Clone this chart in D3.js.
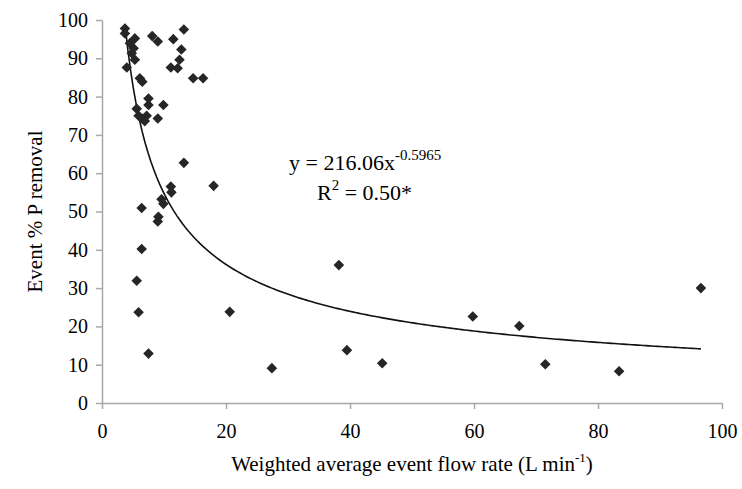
<!DOCTYPE html>
<html>
<head>
<meta charset="utf-8">
<script src="https://cdn.jsdelivr.net/npm/d3@7"></script>
<style>
  body { margin: 0; background: #fff; }
  .tick text { font-family: "Liberation Serif", "Times New Roman", serif; font-size: 20px; fill: #000; }
  .axis path, .axis line { stroke: #a8a8a8; stroke-width: 1.5; }
  .title { font-family: "Liberation Serif", "Times New Roman", serif; font-size: 21px; fill: #000; }
</style>
</head>
<body>
<div id="chart"></div>
<script>
// event data
var flowRate = [3.7, 3.7, 5.3, 4.5, 5.1, 4.8, 5.3, 4.0, 8.1, 9.0,
                 6.1, 6.5, 7.5, 7.5, 9.9, 5.6, 5.9, 6.5, 6.9, 7.2,
                 9.0, 13.2, 11.5, 12.8, 12.5, 11.1, 12.2, 14.7, 16.3, 13.2,
                 18.0, 11.1, 11.2, 9.6, 9.9, 6.4, 9.1, 9.0, 6.4, 5.6,
                 5.9, 7.5, 20.6, 27.4, 38.2, 39.5, 45.2, 59.8, 67.3, 71.5,
                 83.4, 96.6];
var removal = [97.8, 96.5, 95.2, 93.9, 92.6, 91.3, 89.6, 87.6, 95.8, 94.4,
               84.8, 83.9, 79.5, 77.8, 77.8, 76.8, 75.0, 74.2, 73.6, 75.0,
               74.3, 97.5, 95.0, 92.3, 89.6, 87.6, 87.4, 84.8, 84.8, 62.7,
               56.7, 56.5, 55.0, 53.2, 52.0, 50.9, 48.6, 47.4, 40.2, 31.9,
               23.7, 12.9, 23.8, 9.1, 36.0, 13.8, 10.4, 22.6, 20.1, 10.1,
               8.3, 30.0];

// power trendline shown on the chart
var coefA = 216.06;
var coefB = -0.5965;

var xTicks = [0, 20, 40, 60, 80, 100];
var yTicks = [0, 10, 20, 30, 40, 50, 60, 70, 80, 90, 100];

var margin = {top: 20, right: 20, bottom: 86, left: 102};
var width = 742 - margin.left - margin.right;
var height = 489 - margin.top - margin.bottom;

var svg = d3.select("#chart").append("svg")
    .attr("width", 742)
    .attr("height", 489)
  .append("g")
    .attr("transform", "translate(" + margin.left + "," + margin.top + ")");

var x = d3.scaleLinear().domain([0, 100]).range([0, width]);
var y = d3.scaleLinear().domain([0, 100]).range([height, 0]);

// axes
svg.append("g")
    .attr("class", "axis")
    .attr("transform", "translate(0," + height + ")")
    .call(d3.axisBottom(x).tickValues(xTicks).tickSize(6).tickSizeOuter(0).tickPadding(15));

svg.append("g")
    .attr("class", "axis")
    .call(d3.axisLeft(y).tickValues(yTicks).tickSize(6).tickSizeOuter(0).tickPadding(8));

// trendline
var points = d3.zip(flowRate, removal);
var xr = d3.extent(flowRate);
var curve = d3.range(0, 201).map(function(i) {
  var xv = xr[0] + (xr[1] - xr[0]) * i / 200;
  return [xv, coefA * Math.pow(xv, coefB)];
});

svg.append("path")
    .datum(curve)
    .attr("fill", "none")
    .attr("stroke", "#111")
    .attr("stroke-width", 1.6)
    .attr("d", d3.line()
        .x(function(d) { return x(d[0]); })
        .y(function(d) { return y(d[1]); }));

// markers
var diamond = d3.symbol().type(d3.symbolSquare).size(56);
svg.selectAll(".pt")
    .data(points)
  .enter().append("path")
    .attr("class", "pt")
    .attr("fill", "#262626")
    .attr("d", diamond)
    .attr("transform", function(d) {
      return "translate(" + x(d[0]) + "," + y(d[1]) + ") rotate(45)";
    });

// equation
var eq = svg.append("text")
    .attr("class", "title")
    .style("font-size", "22px")
    .attr("x", 187)
    .attr("y", 150);
eq.append("tspan").text("y = 216.06x");
eq.append("tspan").attr("dy", -10).style("font-size", "15px").text("-0.5965");

var r2 = svg.append("text")
    .attr("class", "title")
    .style("font-size", "22px")
    .attr("x", 215)
    .attr("y", 180);
r2.append("tspan").text("R");
r2.append("tspan").attr("dy", -10).style("font-size", "15px").text("2");
r2.append("tspan").attr("dy", 10).text(" = 0.50*");

// axis titles
var xt = svg.append("text")
    .attr("class", "title")
    .attr("x", width / 2)
    .attr("y", height + 68)
    .style("text-anchor", "middle");
xt.append("tspan").text("Weighted average event flow rate (L min");
xt.append("tspan").attr("dy", -9).style("font-size", "13px").text("-1");
xt.append("tspan").attr("dy", 9).text(")");

svg.append("text")
    .attr("class", "title")
    .attr("transform", "translate(-60," + (height / 2) + ") rotate(-90)")
    .style("text-anchor", "middle")
    .text("Event % P removal");
</script>
</body>
</html>
